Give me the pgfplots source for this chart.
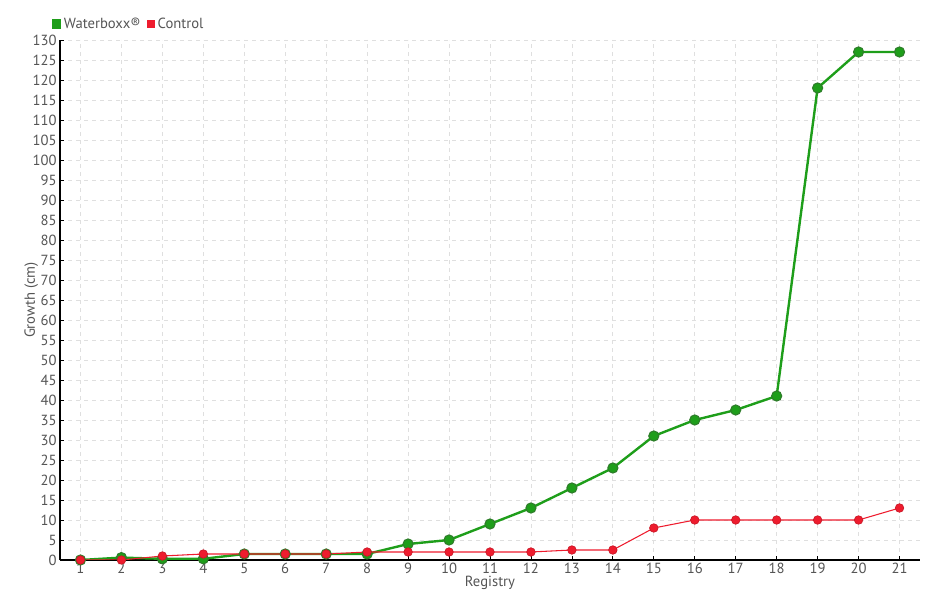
\documentclass[border=0pt]{standalone}
\usepackage{pgfplots}
\pgfplotsset{compat=1.18}
\usepackage{fontspec}
\setmainfont{PT Sans}
\definecolor{wgreen}{HTML}{1E9E1A}
\definecolor{wgreendk}{HTML}{2E7D2A}
\definecolor{cred}{HTML}{EE1C2E}
\definecolor{txt}{HTML}{555555}
\begin{document}
\begin{tikzpicture}[x=1pt,y=1pt]
\path (-45,-30) rectangle (660,420);
\begin{axis}[
  at={(0,0)}, anchor=south west,
  scale only axis,
  width=645pt, height=390pt,
  xmin=0.5, xmax=21.5,
  ymin=0, ymax=130,
  xtick={1,...,21},
  ytick distance=5,
  axis x line*=bottom,
  axis y line*=left,
  axis line style={black, line width=0.8pt, -},
  tick style={black, line width=0.6pt},
  major tick length=3pt,
  grid=major,
  grid style={dashed, gray!25, line width=0.6pt},
  /pgf/number format/assume math mode=true,
  ticklabel style={font=\fontsize{11}{12}\selectfont, text=txt},
  xticklabel style={yshift=1pt},
  yticklabel style={xshift=1pt},
  xlabel={Registry},
  ylabel={Growth (cm)},
  label style={font=\fontsize{11}{12}\selectfont, text=txt},
  xlabel style={yshift=5pt},
  ylabel style={yshift=-11pt},
  legend columns=-1,
  legend style={draw=none, fill=none, at={(-0.014,1.008)}, anchor=south west,
    font=\fontsize{11}{12}\selectfont, text=txt,
    /tikz/every even column/.append style={column sep=3pt}},
  legend image code/.code={\fill[#1] (0pt,-2.5pt) rectangle (5pt,2.5pt);},
]
\addplot[wgreen, line width=1.8pt, mark=*, mark size=3.8pt,
  mark options={fill=wgreen, draw=wgreendk, line width=0.8pt}]
coordinates {(1,0) (2,0.6) (3,0.3) (4,0.3) (5,1.5) (6,1.5) (7,1.5) (8,1.5)
  (9,4) (10,5) (11,9) (12,13) (13,18) (14,23) (15,31) (16,35) (17,37.5)
  (18,41) (19,118) (20,127) (21,127)};
\addlegendentry{Waterboxx®}
\addplot[cred, line width=0.8pt, mark=*, mark size=3.2pt,
  mark options={fill=cred, draw=cred!85!black, line width=0.5pt}]
coordinates {(1,0) (2,0) (3,1) (4,1.5) (5,1.5) (6,1.5) (7,1.5) (8,2)
  (9,2) (10,2) (11,2) (12,2) (13,2.5) (14,2.5) (15,8) (16,10) (17,10)
  (18,10) (19,10) (20,10) (21,13)};
\addlegendentry{Control}
\end{axis}
\end{tikzpicture}
\end{document}
